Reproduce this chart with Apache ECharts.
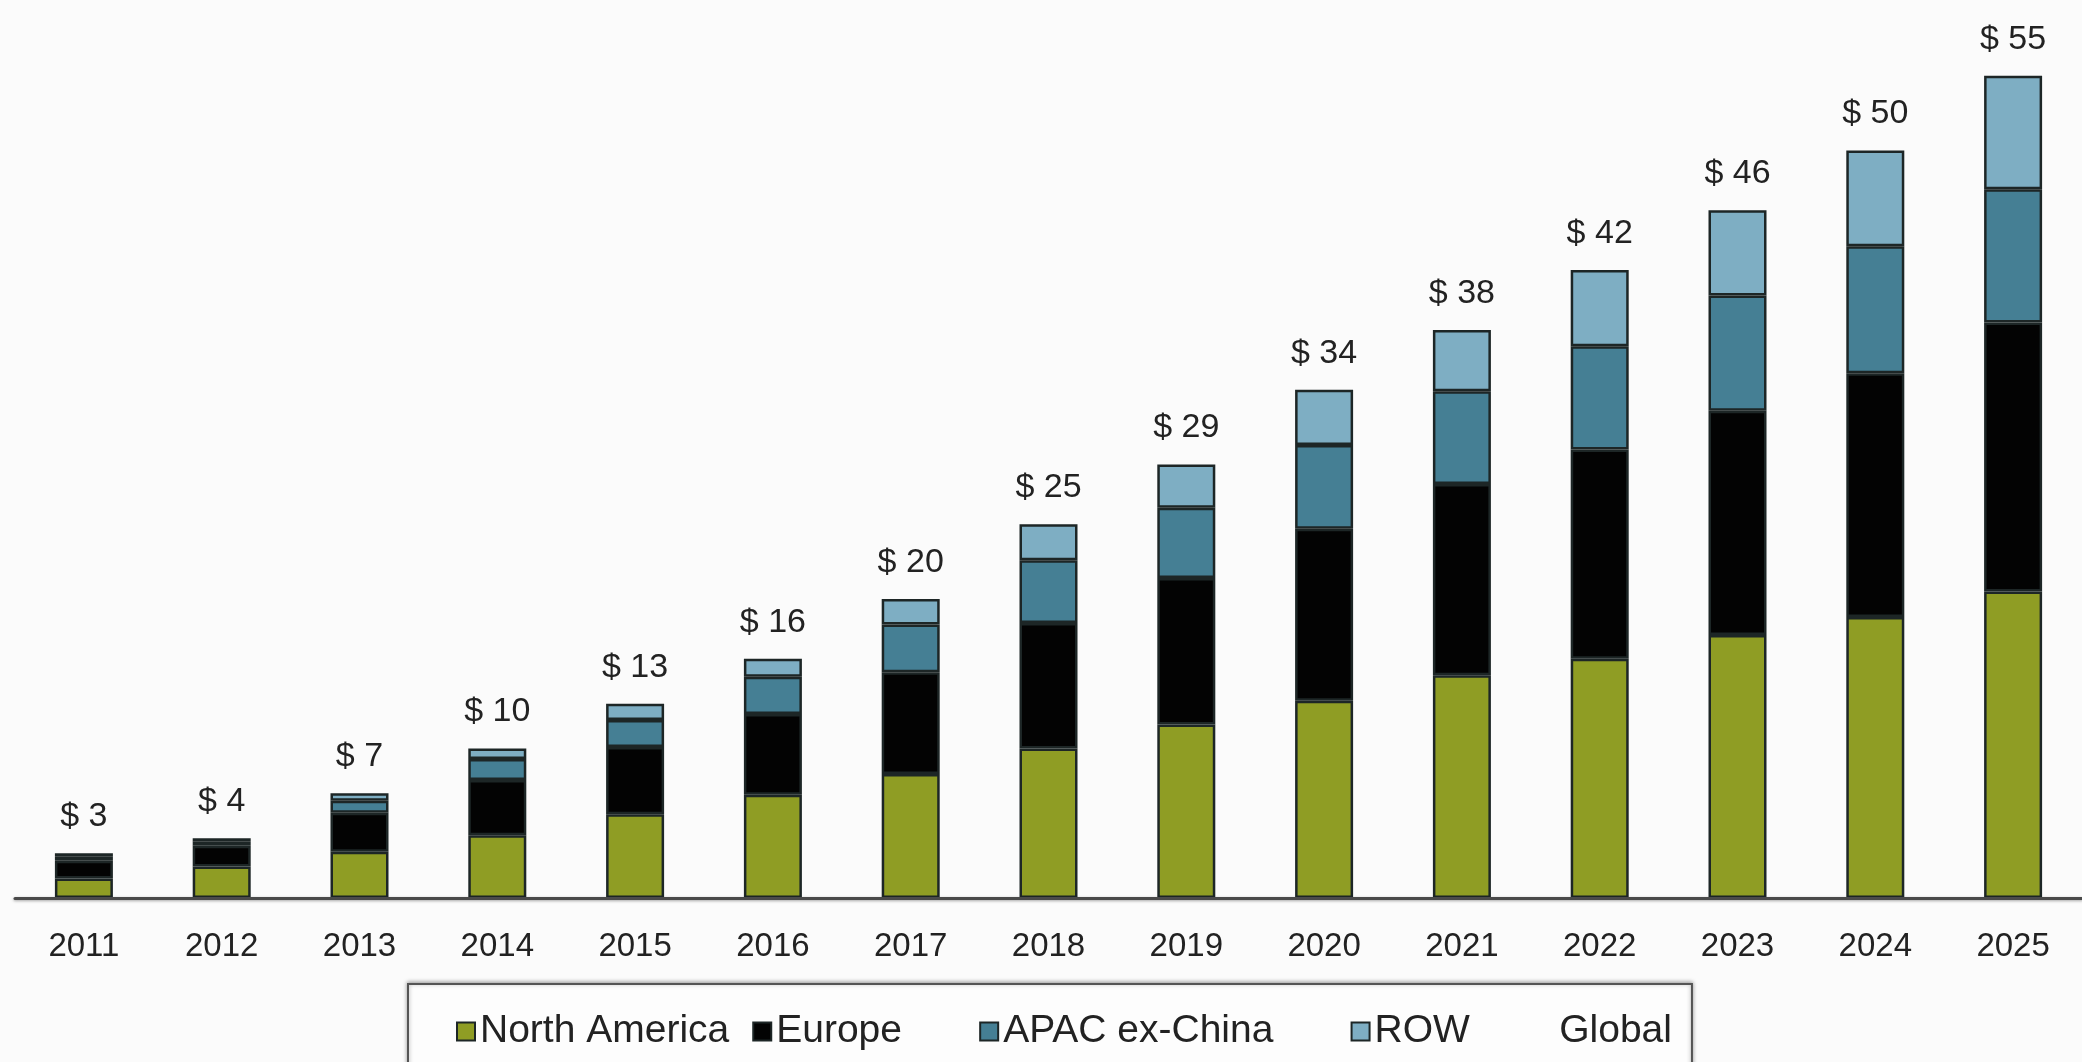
<!DOCTYPE html>
<html>
<head>
<meta charset="utf-8">
<title>Regional market size, 2011–2025</title>
<script src="https://cdn.jsdelivr.net/npm/echarts@6/dist/echarts.min.js"></script>
<style>
  html, body { margin: 0; padding: 0; background: #fbfbfb; }
  #chart { width: 2082px; height: 1062px; }
</style>
</head>
<body>
<div id="chart"></div>
<script>
// Years on the horizontal axis
const years = ['2011','2012','2013','2014','2015','2016','2017','2018','2019','2020','2021','2022','2023','2024','2025'];

// Regional values ($ billions), stacked bottom to top
const northAmerica = [1.3, 2.1, 3.1, 4.2, 5.6, 6.9, 8.3, 10.0, 11.6, 13.2, 14.9, 16.0, 17.6, 18.8, 20.5];
const europe       = [1.2, 1.4, 2.6, 3.7, 4.5, 5.4, 6.8, 8.4, 9.8, 11.5, 12.8, 14.0, 15.0, 16.3, 18.0];
const apacExChina  = [0.3, 0.3, 0.8, 1.4, 1.8, 2.5, 3.2, 4.2, 4.7, 5.6, 6.2, 6.9, 7.7, 8.5, 8.9];
const restOfWorld  = [0.2, 0.2, 0.5, 0.7, 1.1, 1.2, 1.7, 2.4, 2.9, 3.7, 4.1, 5.1, 5.7, 6.4, 7.6];

// Global total shown above each bar
const globalTotal = [3, 4, 7, 10, 13, 16, 20, 25, 29, 34, 38, 42, 46, 50, 55];

const FONT = '"Liberation Sans", Arial, sans-serif';
const edge = { borderColor: '#1d2626', borderWidth: 2.5 };

// Trailing blank space after some legend entries (count of no-break spaces)
const legendTrail = { 'Europe': 5, 'APAC ex-China': 5, 'ROW': 4 };

function stackSeries(name, data, color) {
  return {
    name: name,
    type: 'bar',
    stack: 'region',
    data: data,
    barWidth: 58,
    itemStyle: Object.assign({ color: color }, edge),
    emphasis: { disabled: true }
  };
}

const chart = echarts.init(document.getElementById('chart'), null, { renderer: 'canvas' });

chart.setOption({
  backgroundColor: '#fbfbfb',
  animation: false,
  grid: { left: 15, width: 2069, top: 1, bottom: 164 },
  xAxis: {
    type: 'category',
    data: years,
    axisTick: { show: false },
    axisLine: { show: true, lineStyle: { color: '#4a4a4a', width: 3, shadowColor: 'rgba(0,0,0,0.35)', shadowBlur: 3, shadowOffsetY: 1 } },
    axisLabel: { color: '#222', fontSize: 33, fontFamily: FONT, margin: 32 },
    z: 5
  },
  yAxis: {
    type: 'value',
    min: 0,
    max: 60,
    show: false,
    splitLine: { show: false }
  },
  legend: {
    left: 408,
    top: 984,
    padding: [28, 20, 60, 48],
    itemGap: 23,
    itemWidth: 18,
    itemHeight: 18,
    icon: 'rect',
    borderColor: '#555',
    borderWidth: 2,
    backgroundColor: '#fdfdfd',
    shadowColor: 'rgba(0,0,0,0.35)',
    shadowBlur: 4,
    shadowOffsetY: -1,
    textStyle: { color: '#222', fontSize: 39, fontFamily: FONT },
    formatter: function (name) {
      const n = legendTrail[name] || 0;
      return name + '\u00a0'.repeat(n);
    },
    data: [
      { name: 'North America' },
      { name: 'Europe' },
      { name: 'APAC ex-China' },
      { name: 'ROW' },
      { name: 'Global', itemStyle: { color: 'rgba(0,0,0,0)', borderWidth: 0 } }
    ],
    selectedMode: false
  },
  series: [
    stackSeries('North America', northAmerica, '#8f9d24'),
    stackSeries('Europe', europe, '#030303'),
    stackSeries('APAC ex-China', apacExChina, '#457f94'),
    stackSeries('ROW', restOfWorld, '#7eaec3'),
    {
      name: 'Global',
      type: 'line',
      data: globalTotal,
      symbol: 'circle',
      symbolSize: 1,
      itemStyle: { color: 'rgba(0,0,0,0)' },
      lineStyle: { width: 0, color: 'rgba(0,0,0,0)' },
      emphasis: { disabled: true },
      label: {
        show: true,
        position: 'top',
        distance: 19,
        formatter: function (p) { return '$ ' + p.value; },
        color: '#222',
        fontSize: 34,
        fontFamily: FONT
      },
      z: 10
    }
  ]
});
</script>
</body>
</html>
